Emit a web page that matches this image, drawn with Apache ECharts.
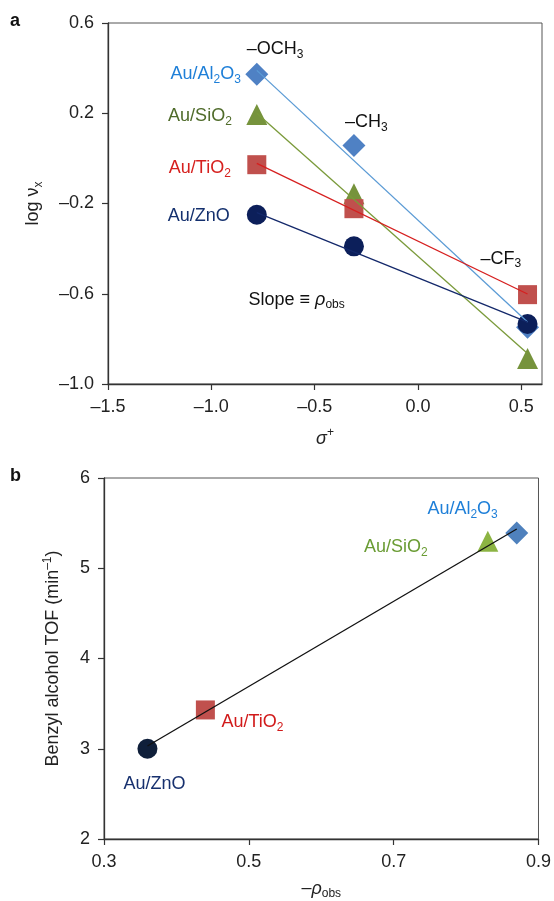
<!DOCTYPE html>
<html>
<head>
<meta charset="utf-8">
<script src="https://cdn.jsdelivr.net/npm/echarts@6/dist/echarts.min.js"></script>
<style>
  html, body { margin: 0; padding: 0; background: #fff; }
  #chart { width: 554px; height: 901px; }
</style>
</head>
<body>
<div id="chart"></div>
<script>
// panel a: Hammett plot, one value per substituent (OCH3, CH3, CF3)
var sigmaPlus = [-0.78, -0.31, 0.53];
var logAl2O3 = [0.373, 0.057, -0.749];
var logSiO2 = [0.195, -0.157, -0.887];
var logTiO2 = [-0.028, -0.223, -0.604];
var logZnO = [-0.250, -0.390, -0.734];

var fitSigma = [-0.78, 0.53];
var fitAl2O3 = [0.39, -0.725];
var fitSiO2 = [0.20, -0.865];
var fitTiO2 = [-0.022, -0.601];
var fitZnO = [-0.24, -0.726];

// panel b: TOF against -rho_obs (Al2O3, SiO2, TiO2, ZnO)
var rhoObs = [0.87, 0.83, 0.44, 0.36];
var tof = [5.39, 5.30, 3.43, 3.00];
var tofFitX = [0.36, 0.87];
var tofFitY = [3.03, 5.435];

// tick labels
var ticksA_x = [-1.5, -1.0, -0.5, 0.0, 0.5];
var ticksA_y = [-1.0, -0.6, -0.2, 0.2, 0.6];
var ticksB_x = [0.3, 0.5, 0.7, 0.9];
var ticksB_y = [2, 3, 4, 5, 6];

var FONT = 'Liberation Sans, Arial, Helvetica, sans-serif';
var rich = {
  n: { fontSize: 18, lineHeight: 23, fontFamily: FONT },
  i: { fontSize: 18, lineHeight: 23, fontFamily: FONT, fontStyle: 'italic' },
  s: { fontSize: 12, lineHeight: 12, fontFamily: FONT, padding: [11, 0, 0, 0] },
  p: { fontSize: 12, lineHeight: 12, fontFamily: FONT, padding: [0, 0, 11, 0] }
};

function pairs(xs, ys) {
  return xs.map(function(x, i) { return [x, ys[i]]; });
}

function fmt(v) {
  return v.toFixed(1).replace('-', '\u2013');
}

// text note attached to a data point, shifted by a few pixels
function note(pt, text, color, align, dx, dy) {
  return {
    coord: pt,
    symbol: 'circle',
    symbolSize: 0,
    label: {
      show: true,
      position: 'inside',
      formatter: text,
      color: color,
      align: align,
      verticalAlign: 'middle',
      offset: [dx, dy],
      fontFamily: FONT,
      fontSize: 18,
      rich: rich
    }
  };
}

function axisBase(grid) {
  return {
    type: 'value',
    gridIndex: grid,
    splitLine: { show: false },
    axisLine: { show: true, onZero: false, lineStyle: { color: '#333', width: 1.3 } },
    axisTick: { show: true, length: 6, lineStyle: { color: '#333', width: 1.2 } },
    axisLabel: { color: '#222', fontSize: 18, fontFamily: FONT, margin: 14, formatter: fmt },
    nameLocation: 'middle',
    nameTextStyle: { color: '#222', fontSize: 18, fontFamily: FONT, rich: rich }
  };
}

function scatter(name, x, y, pts, symbol, size, color, marks) {
  return {
    name: name,
    type: 'scatter',
    xAxisIndex: x,
    yAxisIndex: y,
    data: pts,
    symbol: symbol,
    symbolSize: size,
    itemStyle: { color: color, opacity: 1 },
    z: 2,
    markPoint: marks ? { silent: true, animation: false, data: marks } : undefined
  };
}

function fitLine(x, y, pts, color) {
  return {
    type: 'line',
    xAxisIndex: x,
    yAxisIndex: y,
    data: pts,
    showSymbol: false,
    symbol: 'none',
    lineStyle: { color: color, width: 1.3 },
    z: 3,
    silent: true
  };
}

var sub = {
  al: '{n|Au/Al}{s|2}{n|O}{s|3}',
  si: '{n|Au/SiO}{s|2}',
  ti: '{n|Au/TiO}{s|2}',
  zn: '{n|Au/ZnO}'
};

var ptsAl = pairs(sigmaPlus, logAl2O3);
var ptsSi = pairs(sigmaPlus, logSiO2);
var ptsTi = pairs(sigmaPlus, logTiO2);
var ptsZn = pairs(sigmaPlus, logZnO);
var ptsB = pairs(rhoObs, tof);

var xA = axisBase(0);
xA.min = -1.5; xA.max = 0.6;
xA.axisTick.customValues = ticksA_x;
xA.axisLabel.customValues = ticksA_x;
xA.name = '{i|\u03c3}{p|+}';
xA.nameGap = 43;

var yA = axisBase(0);
yA.min = -1.0; yA.max = 0.6;
yA.axisTick.customValues = ticksA_y;
yA.axisLabel.customValues = ticksA_y;
yA.name = '{n|log \u03bd}{s|x}';
yA.nameRotate = 90;
yA.nameGap = 63;

var xB = axisBase(1);
xB.min = 0.3; xB.max = 0.9;
xB.axisTick.customValues = ticksB_x;
xB.axisLabel.customValues = ticksB_x;
xB.name = '{n|\u2013}{i|\u03c1}{s|obs}';
xB.nameGap = 38;

var yB = axisBase(1);
yB.min = 2; yB.max = 6;
yB.axisTick.customValues = ticksB_y;
yB.axisLabel.customValues = ticksB_y;
yB.axisLabel.formatter = function(v) { return String(v); };
yB.name = '{n|Benzyl alcohol TOF (min}{p|\u20131}{n|)}';
yB.nameRotate = 90;
yB.nameGap = 39;

var chart = echarts.init(document.getElementById('chart'), null, { renderer: 'canvas' });

chart.setOption({
  animation: false,
  backgroundColor: '#fff',
  grid: [
    { left: 108, top: 23, right: 12, bottom: 517, show: true, borderColor: '#555', borderWidth: 1 },
    { left: 104, top: 478, right: 14, bottom: 61, show: true, borderColor: '#555', borderWidth: 1 }
  ],
  xAxis: [xA, xB],
  yAxis: [yA, yB],
  graphic: [
    { type: 'text', left: 10, top: 12, style: { text: 'a', font: 'bold 18px ' + FONT, fill: '#111' } },
    { type: 'text', left: 10, top: 467, style: { text: 'b', font: 'bold 18px ' + FONT, fill: '#111' } }
  ],
  series: [
    scatter('Au/Al2O3', 0, 0, ptsAl, 'diamond', 23, '#4f81c4', [
      note(ptsAl[0], sub.al, '#1e7fd8', 'right', -16, 0),
      note(ptsAl[0], '{n|\u2013OCH}{s|3}', '#111', 'left', -10, -25),
      note(ptsAl[1], '{n|\u2013CH}{s|3}', '#111', 'left', -9, -23)
    ]),
    scatter('Au/SiO2', 0, 0, ptsSi, 'triangle', 21, '#76933c', [
      note(ptsSi[0], sub.si, '#4f6b2a', 'right', -25, 2)
    ]),
    scatter('Au/TiO2', 0, 0, ptsTi, 'rect', 19, '#c0504d', [
      note(ptsTi[0], sub.ti, '#d6201e', 'right', -26, 3),
      note(ptsTi[2], '{n|\u2013CF}{s|3}', '#111', 'left', -47, -36)
    ]),
    scatter('Au/ZnO', 0, 0, ptsZn, 'circle', 20, '#0c1f5a', [
      note(ptsZn[0], sub.zn, '#14306e', 'right', -27, 1),
      note([-0.82, -0.626], '{n|Slope \u2261 }{i|\u03c1}{s|obs}', '#111', 'left', 0, 0)
    ]),
    fitLine(0, 0, pairs(fitSigma, fitAl2O3), '#5b9bd5'),
    fitLine(0, 0, pairs(fitSigma, fitSiO2), '#7a9a3a'),
    fitLine(0, 0, pairs(fitSigma, fitTiO2), '#d61f1f'),
    fitLine(0, 0, pairs(fitSigma, fitZnO), '#13286a'),

    scatter('b Al2O3', 1, 1, [ptsB[0]], 'diamond', 23, '#4f81bd', [
      note(ptsB[0], sub.al, '#1e7fd8', 'right', -19, -24)
    ]),
    scatter('b SiO2', 1, 1, [ptsB[1]], 'triangle', 21, '#8cb443', [
      note(ptsB[1], sub.si, '#6a9c34', 'right', -60, 6)
    ]),
    scatter('b TiO2', 1, 1, [ptsB[2]], 'rect', 19, '#c0504d', [
      note(ptsB[2], sub.ti, '#d11a1a', 'left', 16, 12)
    ]),
    scatter('b ZnO', 1, 1, [ptsB[3]], 'circle', 20, '#0f1f3a', [
      note(ptsB[3], sub.zn, '#17306e', 'center', 7, 35)
    ]),
    fitLine(1, 1, pairs(tofFitX, tofFitY), '#111')
  ]
});
</script>
</body>
</html>
